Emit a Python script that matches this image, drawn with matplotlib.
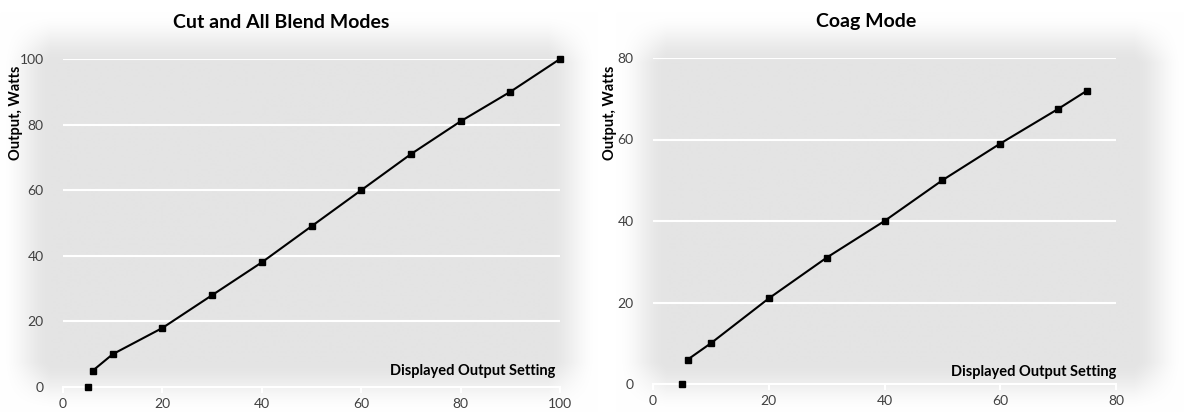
import numpy as np
import matplotlib
matplotlib.use("Agg")
import matplotlib.pyplot as plt

# Cut and All Blend Modes
cut_x = [6, 10, 20, 30, 40, 50, 60, 70, 80, 90, 100]
cut_y = [5, 10, 18, 28, 38, 49, 60, 71, 81, 90, 100]
cut_start_x = [5]
cut_start_y = [0]

# Coag Mode
coag_x = [6, 10, 20, 30, 40, 50, 60, 70, 75]
coag_y = [6, 10, 21, 31, 40, 50, 59, 67.5, 72]
coag_start_x = [5]
coag_start_y = [0]

titles = ["Cut and All Blend Modes", "Coag Mode"]
xlabel = "Displayed Output Setting"
ylabel = "Output, Watts"

plt.rcParams['font.family'] = ['Lato', 'DejaVu Sans']

W, H = 1185, 413
fig = plt.figure(figsize=(W / 100, H / 100), dpi=100)

gray = np.array([228, 228, 228]) / 255.0


def soft_panel(rect, fade=45):
    # gray plot area with soft white edges
    bx = fig.add_axes(rect, zorder=-5)
    pw = int(rect[2] * W)
    ph = int(rect[3] * H)
    xx = np.arange(pw)
    yy = np.arange(ph)
    fx = np.clip(np.minimum(xx, pw - 1 - xx) / fade, 0, 1)
    fy = np.clip(np.minimum(yy, ph - 1 - yy) / fade, 0, 1)
    a = np.outer(fy, fx)
    a = a * a * (3 - 2 * a)
    img = np.ones((ph, pw, 3)) * (1 - a[..., None]) + gray[None, None, :] * a[..., None]
    bx.imshow(img, aspect='auto', interpolation='bilinear')
    bx.axis('off')


soft_panel([0.0, 0.0, 0.505, 0.97], fade=50)
soft_panel([0.52, 0.0, 0.48, 0.97], fade=50)


def style(ax, xmax, ymax, step_y):
    ax.set_facecolor('none')
    for s in ['top', 'right', 'left']:
        ax.spines[s].set_visible(False)
    ax.spines['bottom'].set_color('white')
    ax.spines['bottom'].set_linewidth(1.5)
    ax.spines['bottom'].set_zorder(1)
    ax.set_xlim(0, xmax)
    ax.set_ylim(0, ymax)
    ax.set_xticks(np.arange(0, xmax + 1, 20))
    ax.set_yticks(np.arange(0, ymax + 1, step_y))
    ax.yaxis.grid(True, color='white', linewidth=1.5)
    ax.set_axisbelow(True)
    ax.tick_params(axis='x', colors='white', length=4, width=1.5, labelcolor='#404040',
                   labelsize=10, pad=4)
    ax.tick_params(axis='y', length=0, labelcolor='#404040', labelsize=10, pad=14)


ax1 = fig.add_axes([63 / W, 1 - 387 / H, 497 / W, 328 / H])
style(ax1, 100, 100, 20)
ax1.plot(cut_x, cut_y, color='black', linewidth=1.5, marker='s', markersize=5, clip_on=False,
         zorder=5)
ax1.plot(cut_start_x, cut_start_y, color='black', linestyle='none', marker='s', markersize=5,
         clip_on=False, zorder=5)

ax2 = fig.add_axes([653 / W, 1 - 384 / H, 463 / W, 326 / H])
style(ax2, 80, 80, 20)
ax2.plot(coag_x, coag_y, color='black', linewidth=1.5, marker='s', markersize=5, clip_on=False,
         zorder=5)
ax2.plot(coag_start_x, coag_start_y, color='black', linestyle='none', marker='s', markersize=5,
         clip_on=False, zorder=5)

# titles
fig.text(281 / W, 1 - 22 / H, titles[0], ha='center', va='center', fontsize=14,
         fontweight='bold')
fig.text(866 / W, 1 - 22 / H, titles[1], ha='center', va='center', fontsize=14,
         fontweight='bold')

# axis labels
fig.text(16 / W, 1 - 113 / H, ylabel, rotation=90, ha='center', va='center', fontsize=10.5,
         fontweight='bold')
fig.text(610 / W, 1 - 113 / H, ylabel, rotation=90, ha='center', va='center', fontsize=10.5,
         fontweight='bold')
fig.text(555 / W, 1 - 371 / H, xlabel, ha='right', va='center', fontsize=10.5,
         fontweight='bold')
fig.text(1116 / W, 1 - 372 / H, xlabel, ha='right', va='center', fontsize=10.5,
         fontweight='bold')

plt.savefig("out.png", dpi=100)
